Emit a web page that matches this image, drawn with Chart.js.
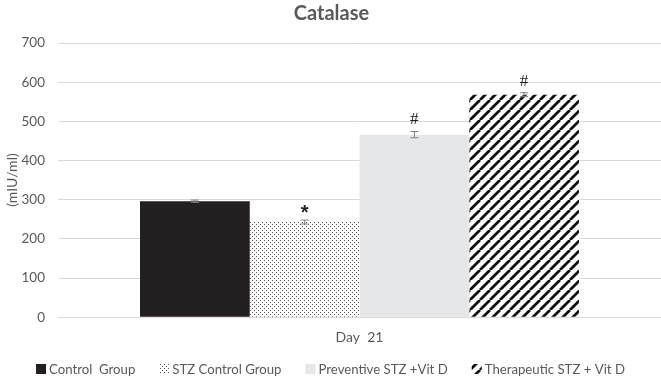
<!DOCTYPE html>
<html>
<head>
<meta charset="utf-8">
<script src="https://cdn.jsdelivr.net/npm/chart.js@4"></script>
<style>
  html, body { margin: 0; padding: 0; background: #fff; }
  #wrap { width: 661px; height: 378px; }
</style>
</head>
<body>
<div id="wrap"><canvas id="chart"></canvas></div>
<script>
const categories = ['Day  21'];
const groups = ['Control  Group', 'STZ Control Group', 'Preventive STZ +Vit D', 'Therapeutic STZ + Vit D'];
const values = [296, 243, 466, 568];
const errors = [3, 5, 8, 5];
const marks = ['', '*', '#', '#'];
const yTicks = [0, 100, 200, 300, 400, 500, 600, 700];

const textColor = '#595959';
const font = 'Lato';

function dotPattern() {
  const c = document.createElement('canvas');
  c.width = 4; c.height = 4;
  const g = c.getContext('2d');
  g.fillStyle = '#fff';
  g.fillRect(0, 0, 4, 4);
  g.fillStyle = '#555';
  g.fillRect(0, 0, 1, 1);
  g.fillRect(2, 2, 1, 1);
  return g.createPattern(c, 'repeat');
}

function stripePattern() {
  const s = 10;
  const c = document.createElement('canvas');
  c.width = s; c.height = s;
  const g = c.getContext('2d');
  g.fillStyle = '#fff';
  g.fillRect(0, 0, s, s);
  g.strokeStyle = '#111';
  g.lineWidth = 2.8;
  g.beginPath();
  for (let k = -1; k <= 1; k++) {
    g.moveTo(k * s, s);
    g.lineTo(k * s + s, 0);
  }
  g.stroke();
  return g.createPattern(c, 'repeat');
}

const fills = ['#231f20', dotPattern(), '#e6e7e9', stripePattern()];

// error bars plus significance marks
const errorBars = {
  id: 'errorBars',
  afterDatasetsDraw(chart) {
    const ctx = chart.ctx;
    const y = chart.scales.y;
    ctx.save();
    chart.data.datasets.forEach((ds, i) => {
      const x = chart.getDatasetMeta(i).data[0].x;
      const top = y.getPixelForValue(values[i] + errors[i]);
      const bot = y.getPixelForValue(values[i] - errors[i]);
      ctx.strokeStyle = '#7f7f7f';
      ctx.lineWidth = 1;
      ctx.beginPath();
      ctx.moveTo(x, top); ctx.lineTo(x, bot);
      ctx.moveTo(x - 4, top); ctx.lineTo(x + 4, top);
      ctx.moveTo(x - 4, bot); ctx.lineTo(x + 4, bot);
      ctx.stroke();
      if (marks[i]) {
        ctx.fillStyle = '#222';
        ctx.textAlign = 'center';
        ctx.textBaseline = 'bottom';
        if (marks[i] === '*') {
          ctx.font = 'bold 20px "Liberation Sans"';
          ctx.fillText('*', x, top + 3);
        } else {
          ctx.font = '17px "Liberation Serif"';
          ctx.fillText('#', x, top - 3);
        }
      }
    });
    ctx.restore();
  }
};

// legend drawn by hand so the box/text gaps match
const bottomLegend = {
  id: 'bottomLegend',
  afterDraw(chart) {
    const ctx = chart.ctx;
    const box = 10, gapText = 3, gapItem = 24, cy = 369;
    ctx.save();
    ctx.font = '13.2px ' + font;
    ctx.textBaseline = 'middle';
    const widths = groups.map(g => ctx.measureText(g).width);
    const total = widths.reduce((a, w) => a + box + gapText + w, 0) + gapItem * (groups.length - 1);
    let x = (chart.width - total) / 2;
    groups.forEach((g, i) => {
      ctx.fillStyle = fills[i];
      ctx.fillRect(x, cy - box / 2, box, box);
      ctx.fillStyle = textColor;
      ctx.fillText(g, x + box + gapText, cy + 1);
      x += box + gapText + widths[i] + gapItem;
    });
    ctx.restore();
  }
};

new Chart(document.getElementById('chart'), {
  type: 'bar',
  data: {
    labels: categories,
    datasets: groups.map((g, i) => ({
      label: g,
      data: [values[i]],
      backgroundColor: fills[i],
      borderWidth: 0
    }))
  },
  options: {
    responsive: true,
    maintainAspectRatio: false,
    animation: false,
    layout: { padding: { left: 2, right: 0, top: 0, bottom: 28 } },
    datasets: { bar: { categoryPercentage: 0.728, barPercentage: 1 } },
    plugins: {
      title: {
        display: true,
        text: 'Catalase',
        color: textColor,
        font: { family: font, size: 20, weight: 'bold' },
        padding: { top: 2, bottom: 17 }
      },
      legend: { display: false },
      tooltip: { enabled: false }
    },
    scales: {
      x: {
        grid: { display: false },
        border: { color: '#d9d9d9' },
        ticks: { color: textColor, font: { family: font, size: 14 }, padding: 4 }
      },
      y: {
        min: 0,
        max: 700,
        afterBuildTicks(axis) { axis.ticks = yTicks.map(v => ({ value: v })); },
        afterFit(axis) { axis.width = 56; },
        grid: { color: '#d9d9d9', drawTicks: false },
        border: { display: false },
        ticks: { color: textColor, font: { family: font, size: 13.5 }, padding: 13 },
        title: {
          display: true,
          text: '(mIU/ml)',
          color: textColor,
          font: { family: font, size: 14 },
          padding: 2
        }
      }
    }
  },
  plugins: [errorBars, bottomLegend]
});
</script>
</body>
</html>
